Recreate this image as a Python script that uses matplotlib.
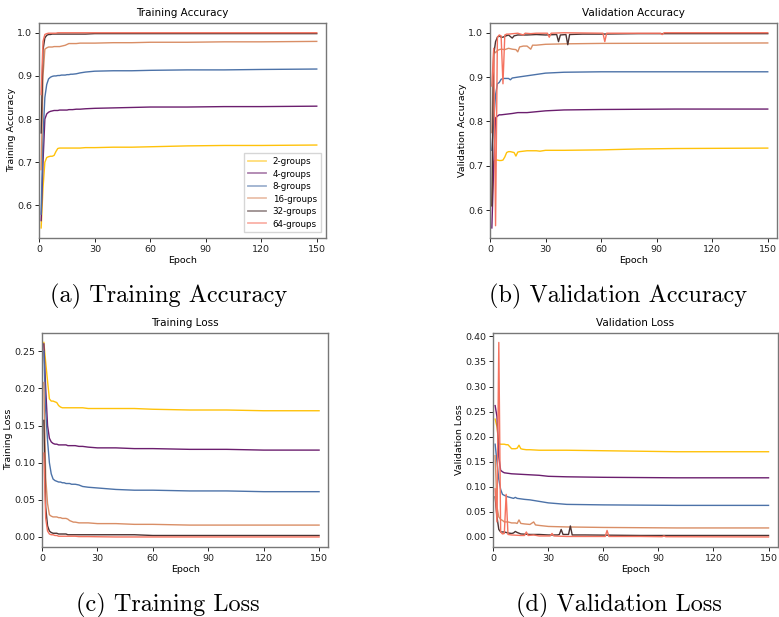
import matplotlib
matplotlib.use("Agg")
import matplotlib.pyplot as plt

# ---------------- data ----------------
names = ["2-groups", "4-groups", "8-groups", "16-groups", "32-groups", "64-groups"]
colors = ["#FFC20A", "#6B1E6E", "#4C72A8", "#D98E66", "#4B3333", "#F5725F"]

E = [1, 2, 3, 4, 5, 6, 7, 8, 9, 10, 11, 12, 13, 14, 15, 16, 17, 18, 20, 22, 25,
     30, 40, 50, 60, 80, 100, 120, 150]

# Training accuracy
ta_2 = [0.548, 0.64, 0.70, 0.711, 0.713, 0.714, 0.714, 0.716, 0.725, 0.732, 0.733, 0.733, 0.733, 0.733,
        0.733, 0.733, 0.733, 0.733, 0.733, 0.733, 0.734, 0.734, 0.735, 0.735, 0.736, 0.738, 0.739, 0.739, 0.740]
ta_4 = [0.565, 0.70, 0.80, 0.812, 0.816, 0.818, 0.819, 0.820, 0.820, 0.820, 0.821, 0.821, 0.821, 0.821,
        0.821, 0.822, 0.822, 0.822, 0.823, 0.823, 0.824, 0.825, 0.826, 0.827, 0.828, 0.828, 0.829, 0.829, 0.830]
ta_8 = [0.58, 0.76, 0.85, 0.88, 0.893, 0.897, 0.899, 0.900, 0.900, 0.901, 0.901, 0.902, 0.902, 0.902,
        0.903, 0.903, 0.904, 0.904, 0.905, 0.907, 0.909, 0.911, 0.912, 0.912, 0.913, 0.914, 0.914, 0.915, 0.916]
ta_16 = [0.683, 0.90, 0.962, 0.965, 0.967, 0.967, 0.967, 0.968, 0.968, 0.968, 0.968, 0.969, 0.970, 0.971,
         0.973, 0.975, 0.975, 0.975, 0.975, 0.976, 0.976, 0.976, 0.977, 0.977, 0.978, 0.978, 0.979, 0.979, 0.980]
ta_32 = [0.768, 0.96, 0.988, 0.994, 0.996, 0.996, 0.997, 0.997, 0.997, 0.997, 0.997, 0.997, 0.997, 0.997,
         0.997, 0.997, 0.997, 0.997, 0.997, 0.997, 0.997, 0.998, 0.998, 0.998, 0.998, 0.998, 0.998, 0.998, 0.998]
ta_64 = [0.857, 0.98, 0.996, 0.998, 0.999, 0.999, 0.999, 0.999, 0.999, 1.0, 1.0, 1.0, 1.0, 1.0,
         1.0, 1.0, 1.0, 1.0, 1.0, 1.0, 1.0, 1.0, 1.0, 1.0, 1.0, 1.0, 1.0, 1.0, 1.0]

# Training loss
tl_2 = [0.262, 0.235, 0.21, 0.186, 0.183, 0.183, 0.182, 0.181, 0.177, 0.175, 0.174, 0.174, 0.174, 0.174,
        0.174, 0.174, 0.174, 0.174, 0.174, 0.174, 0.173, 0.173, 0.173, 0.173, 0.172, 0.171, 0.171, 0.170, 0.170]
tl_4 = [0.26, 0.20, 0.15, 0.133, 0.128, 0.126, 0.125, 0.125, 0.124, 0.124, 0.124, 0.124, 0.124, 0.123,
        0.123, 0.123, 0.123, 0.123, 0.122, 0.122, 0.121, 0.120, 0.120, 0.119, 0.119, 0.118, 0.118, 0.117, 0.117]
tl_8 = [0.25, 0.17, 0.13, 0.10, 0.085, 0.078, 0.076, 0.075, 0.074, 0.074, 0.073, 0.073, 0.072, 0.072,
        0.072, 0.071, 0.071, 0.071, 0.070, 0.068, 0.067, 0.066, 0.064, 0.063, 0.063, 0.062, 0.062, 0.061, 0.061]
tl_16 = [0.208, 0.08, 0.045, 0.030, 0.028, 0.027, 0.027, 0.027, 0.026, 0.026, 0.025, 0.025, 0.025, 0.024,
         0.022, 0.021, 0.020, 0.020, 0.019, 0.019, 0.019, 0.018, 0.018, 0.017, 0.017, 0.016, 0.016, 0.016, 0.016]
tl_32 = [0.157, 0.04, 0.015, 0.008, 0.006, 0.005, 0.005, 0.005, 0.004, 0.004, 0.004, 0.004, 0.004, 0.003,
         0.003, 0.003, 0.003, 0.003, 0.003, 0.003, 0.003, 0.003, 0.003, 0.003, 0.002, 0.002, 0.002, 0.002, 0.002]
tl_64 = [0.113, 0.025, 0.008, 0.004, 0.003, 0.003, 0.002, 0.002, 0.001, 0.001, 0.001, 0.001, 0.001, 0.001,
         0.001, 0.001, 0.001, 0.001, 0.0005, 0.0005, 0.0005, 0.0003, 0.0, 0.0, 0.0, 0.0, 0.0, 0.0, 0.0]

# Validation accuracy
va_2_ep = [1, 2, 3, 4, 5, 6, 7, 8, 9, 10, 11, 12, 13, 14, 15, 16, 18, 20, 25, 27, 30, 40, 60, 80, 100, 150]
va_2 = [0.61, 0.71, 0.713, 0.713, 0.712, 0.712, 0.713, 0.72, 0.73, 0.732, 0.732, 0.731, 0.73, 0.722,
        0.731, 0.732, 0.733, 0.734, 0.734, 0.733, 0.735, 0.735, 0.736, 0.738, 0.739, 0.740]
va_4_ep = [1, 2, 3, 4, 5, 6, 8, 10, 12, 15, 20, 25, 30, 40, 60, 100, 150]
va_4 = [0.56, 0.70, 0.808, 0.812, 0.815, 0.815, 0.816, 0.817, 0.818, 0.820, 0.820, 0.822, 0.824, 0.826,
        0.827, 0.828, 0.828]
va_8_ep = [1, 2, 3, 4, 5, 6, 7, 8, 10, 11, 12, 15, 20, 25, 30, 40, 60, 150]
va_8 = [0.735, 0.80, 0.86, 0.885, 0.888, 0.895, 0.897, 0.897, 0.897, 0.894, 0.898, 0.900, 0.903, 0.906,
        0.909, 0.911, 0.912, 0.912]
va_16_ep = [1, 2, 3, 4, 5, 6, 8, 10, 12, 14, 15, 16, 18, 20, 22, 23, 25, 30, 40, 60, 150]
va_16 = [0.775, 0.96, 0.955, 0.96, 0.962, 0.963, 0.962, 0.965, 0.963, 0.962, 0.957, 0.968, 0.970, 0.970,
         0.963, 0.972, 0.972, 0.974, 0.975, 0.976, 0.977]
va_32_ep = [1, 2, 3, 4, 5, 6, 7, 8, 10, 12, 13, 15, 20, 25, 30, 36, 37, 38, 41, 42, 43, 50, 60, 80, 150]
va_32 = [0.61, 0.95, 0.98, 0.99, 0.993, 0.99, 0.99, 0.992, 0.995, 0.988, 0.993, 0.995, 0.995, 0.996,
         0.995, 0.996, 0.980, 0.995, 0.996, 0.973, 0.996, 0.997, 0.997, 0.998, 0.998]
va_64_ep = [1, 2, 3, 4, 5, 6, 7, 8, 9, 10, 15, 18, 19, 22, 25, 31, 32, 33, 40, 61, 62, 63, 92, 93, 94, 150]
va_64 = [0.88, 0.965, 0.565, 0.99, 0.995, 0.993, 0.885, 0.995, 0.997, 0.997, 0.999, 0.995, 0.999, 0.998,
         0.999, 0.999, 0.990, 0.999, 1.0, 0.999, 0.980, 0.999, 0.999, 0.996, 1.0, 1.0]

# Validation loss
vl_2_ep = [1, 2, 3, 4, 5, 6, 7, 8, 9, 10, 11, 12, 13, 14, 15, 16, 18, 20, 25, 30, 40, 60, 80, 100, 150]
vl_2 = [0.235, 0.22, 0.186, 0.185, 0.185, 0.185, 0.184, 0.184, 0.180, 0.176, 0.176, 0.176, 0.177, 0.183,
        0.176, 0.175, 0.174, 0.174, 0.173, 0.173, 0.173, 0.172, 0.171, 0.170, 0.170]
vl_4_ep = [1, 2, 3, 4, 5, 6, 8, 10, 15, 20, 25, 30, 40, 60, 100, 150]
vl_4 = [0.262, 0.24, 0.16, 0.133, 0.130, 0.128, 0.127, 0.126, 0.125, 0.124, 0.123, 0.121, 0.120, 0.119,
        0.118, 0.118]
vl_8_ep = [1, 2, 3, 4, 5, 6, 8, 10, 11, 12, 13, 15, 17, 20, 25, 30, 40, 60, 100, 150]
vl_8 = [0.185, 0.15, 0.115, 0.095, 0.085, 0.083, 0.080, 0.078, 0.077, 0.079, 0.077, 0.076, 0.075, 0.074,
        0.071, 0.068, 0.065, 0.064, 0.063, 0.063]
vl_16_ep = [1, 2, 3, 4, 5, 6, 8, 10, 12, 13, 14, 15, 17, 20, 22, 23, 25, 30, 40, 60, 100, 150]
vl_16 = [0.162, 0.06, 0.04, 0.035, 0.033, 0.030, 0.030, 0.028, 0.028, 0.027, 0.034, 0.027, 0.026, 0.025,
         0.030, 0.024, 0.023, 0.021, 0.020, 0.019, 0.018, 0.018]
vl_32_ep = [1, 2, 3, 4, 5, 6, 8, 10, 11, 12, 13, 15, 20, 25, 30, 35, 36, 37, 38, 41, 42, 43, 50, 80, 150]
vl_32 = [0.08, 0.04, 0.015, 0.010, 0.010, 0.010, 0.008, 0.007, 0.008, 0.011, 0.009, 0.006, 0.005, 0.005,
         0.004, 0.004, 0.005, 0.015, 0.005, 0.005, 0.022, 0.004, 0.004, 0.003, 0.003]
vl_64_ep = [1, 2, 3, 4, 5, 6, 7, 8, 10, 15, 17, 18, 19, 22, 25, 31, 32, 33, 40, 61, 62, 63, 80, 92, 93, 94, 150]
vl_64 = [0.096, 0.03, 0.388, 0.010, 0.006, 0.007, 0.085, 0.005, 0.004, 0.003, 0.003, 0.010, 0.003, 0.004,
         0.002, 0.002, 0.007, 0.002, 0.001, 0.001, 0.013, 0.001, 0.001, 0.0005, 0.002, 0.0005, 0.0]

panels = [
    dict(title="Training Accuracy", ylabel="Training Accuracy", caption="(a) Training Accuracy",
         series=[(E, ta_2), (E, ta_4), (E, ta_8), (E, ta_16), (E, ta_32), (E, ta_64)], legend=True),
    dict(title="Validation Accuracy", ylabel="Validation Accuracy", caption="(b) Validation Accuracy",
         series=[(va_2_ep, va_2), (va_4_ep, va_4), (va_8_ep, va_8), (va_16_ep, va_16),
                 (va_32_ep, va_32), (va_64_ep, va_64)], legend=False),
    dict(title="Training Loss", ylabel="Training Loss", caption="(c) Training Loss",
         series=[(E, tl_2), (E, tl_4), (E, tl_8), (E, tl_16), (E, tl_32), (E, tl_64)], legend=False),
    dict(title="Validation Loss", ylabel="Validation Loss", caption="(d) Validation Loss",
         series=[(vl_2_ep, vl_2), (vl_4_ep, vl_4), (vl_8_ep, vl_8), (vl_16_ep, vl_16),
                 (vl_32_ep, vl_32), (vl_64_ep, vl_64)], legend=False),
]
xticks = [0, 30, 60, 90, 120, 150]

# ---------------- layout ----------------
W, H = 779, 617
fig = plt.figure(figsize=(W / 100, H / 100), dpi=100)
fig.patch.set_facecolor("white")

# axes boxes in pixels: left, right, top, bottom ; caption centre x, y
boxes = [
    (39.3, 326.0, 23.0, 237.7, 168.5, 296.0),
    (490.0, 777.0, 23.0, 237.7, 618.0, 296.0),
    (42.0, 328.3, 332.7, 546.7, 168.0, 605.0),
    (493.3, 777.7, 332.7, 546.7, 619.0, 605.0),
]

for p, (l, r, t, b, cx, cy) in zip(panels, boxes):
    ax = fig.add_axes([l / W, 1 - b / H, (r - l) / W, (b - t) / H])
    for (ep, vals), name, c in zip(p["series"], names, colors):
        ax.plot(ep, vals, color=c, lw=1.0, label=name)
    ax.set_xlim(0, 155)
    ax.set_xticks(xticks)
    ax.set_title(p["title"], fontsize=7.5, pad=5)
    ax.set_xlabel("Epoch", fontsize=6.8, labelpad=1.5)
    ax.set_ylabel(p["ylabel"], fontsize=6.8, labelpad=1)
    ax.tick_params(labelsize=6.8, length=3, width=0.7, pad=2, colors="#222222")
    for s in ax.spines.values():
        s.set_color("#777777")
        s.set_linewidth(1.0)
    if p["legend"]:
        leg = ax.legend(loc="lower right", fontsize=6.3, frameon=True, handlelength=2.0,
                        borderpad=0.45, labelspacing=0.4, fancybox=False, edgecolor="#cccccc",
                        borderaxespad=0.6)
        for h in leg.get_lines():
            h.set_alpha(0.55)
            h.set_linewidth(1.3)
    fig.text(cx / W, 1 - cy / H, p["caption"], ha="center", va="center",
             fontsize=17.5, family="cmr10")

fig.savefig("out.png", dpi=100, facecolor="white")
